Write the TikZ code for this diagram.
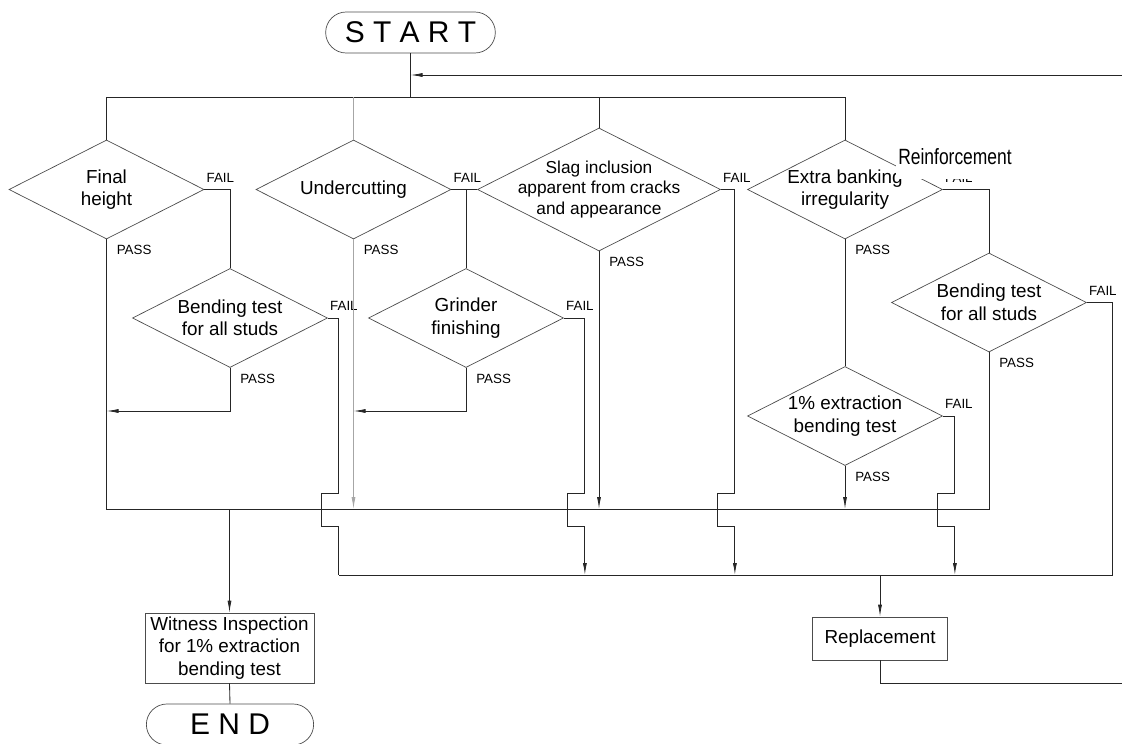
\documentclass[tikz,border=0pt]{standalone}
\usepackage{fontspec}
\setmainfont{Liberation Sans}
\newfontfamily\schmal[FakeStretch=0.79]{Liberation Sans}
\usetikzlibrary{arrows.meta,positioning,shapes.geometric,shapes.misc}
\tikzset{
    %Define standard arrow tip
    >={Latex[length=3mm,width=1mm]},
    % Define line styles
    linie/.style={draw=black!85, line width=0.6pt},
    grau/.style={draw=black!35, line width=0.6pt},
    pfeil/.style={linie, ->},
    % Define style for decisions
    raute/.style={
           diamond, aspect=1.97,
           draw=black!70, line width=0.5pt,
           inner sep=-2pt,
           minimum width=4.875cm,
           minimum height=2.475cm,
           align=center,
           font=\fontsize{13.4}{16}\selectfont},
    % Define style for boxes
    kasten/.style={
           rectangle,
           draw=black!70, line width=0.5pt,
           inner sep=0pt,
           align=center,
           font=\fontsize{13.4}{16}\selectfont},
    % Define style for start and end
    ende/.style={rounded rectangle, draw=black!70, line width=0.5pt,
           minimum width=4.475cm, minimum height=1.025cm,
           font=\fontsize{21.3}{24}\selectfont},
    % Define style for PASS / FAIL
    marke/.style={anchor=west, inner sep=0pt, font=\fontsize{9.5}{11}\selectfont}
}
% jog of a FAIL line across the PASS bus
\newcommand{\sprung}{-- ++(-17,0) -- ++(0,33) -- ++(17,0)}

\begin{document}
\begin{tikzpicture}[x=0.025cm,y=-0.025cm]
  \useasboundingbox (0,0) rectangle (1122,743);
  % levels of the buses
  \coordinate (bo) at (0,97);
  \coordinate (rp) at (0,411);
  \coordinate (so) at (0,493);
  \coordinate (bm) at (0,509);
  \coordinate (bu) at (0,575);
  \coordinate (rueck) at (1122,683);
  \coordinate (rueck2) at (1122,75);

  \node[ende] (start) at (410.5,32.5) {S T A R T};
  \node[raute] (d1) at (106.5,189.5) {Final\\height};
  \node[raute] (d2) at (353.5,189.5) {Undercutting};
  \node[raute, aspect=1.976, inner sep=-5pt, minimum width=6.075cm, minimum height=3.075cm,
        font=\fontsize{12.3}{14.6}\selectfont] (d3) at (599,189.5) {Slag inclusion\\apparent from cracks\\and appearance};
  \node[raute] (d4) at (845,189.5) {Extra banking\\irregularity};
  \node[raute] (b1) at (230,318) {Bending test\\for all studs};
  \node[raute] (g) at (466,318) {Grinder\\finishing};
  \node[raute] (b2) at (989,302.5) {Bending test\\for all studs};
  \node[raute] (e1) at (845,416) {1\% extraction\\bending test};
  \node[kasten, minimum width=4.225cm, minimum height=1.75cm] (wit) at (229.5,648) {Witness Inspection\\for 1\% extraction\\bending test};
  \node[kasten, minimum width=3.39cm, minimum height=1.075cm] (rep) at (880,638.5) {Replacement};
  \node[ende, minimum width=4.415cm] (end) at (230,724.5) {E N D};

  \foreach \d/\n in {d1/1,d2/2,d3/3,d4/4,b1/5,g/6,b2/7,e1/8} {
    \node[marke] (f\n) at ([shift={(2,-12)}]\d.east) {FAIL};
    \node[marke] (p\n) at ([shift={(10,11)}]\d.south) {PASS};
  }

  % start and top bus
  \draw[linie] (start.south) -- (start.south |- bo);
  \draw[pfeil] (rueck2) -- (rueck2 -| start.south);
  \draw[linie] (d1.north) -- (d1.north |- bo) -- (d4.north |- bo) -- (d4.north);
  \draw[linie] (d3.north) -- (d3.north |- bo);
  \draw[grau] (d2.north) -- (d2.north |- bo);

  % FAIL
  \draw[linie] (d1.east) -| (b1.north);
  \draw[linie] (d2.east) -- (d3.west);
  \draw[linie] (g.north |- d2.east) -- (g.north);
  \draw[linie] (d4.east) -| (b2.north);
  \draw[linie] (b1.east) -- ++(11,0) coordinate (k1) -- (k1 |- so) \sprung -- (k1 |- bu);
  \draw[pfeil] (g.east) -- ++(21,0) coordinate (k6) -- (k6 |- so) \sprung -- (k6 |- bu);
  \draw[pfeil] (d3.east) -- ++(14,0) coordinate (k3) -- (k3 |- so) \sprung -- (k3 |- bu);
  \draw[pfeil] (e1.east) -- ++(12,0) coordinate (k8) -- (k8 |- so) \sprung -- (k8 |- bu);
  \draw[linie] (b2.east) -- ++(26,0) coordinate (k7) -- (k7 |- bu) -- (k1 |- bu);

  % PASS
  \draw[linie] (d4.south) -- (e1.north);
  \draw[linie] (d1.south) -- (d1.south |- bm) -- (b2.south |- bm) -- (b2.south);
  \draw[pfeil] (b1.south) -- (b1.south |- rp) -- (d1.south |- rp);
  \draw[grau, ->] (d2.south) -- (d2.south |- bm);
  \draw[pfeil] (g.south) -- (g.south |- rp) -- (d2.south |- rp);
  \draw[pfeil] (d3.south) -- (d3.south |- bm);
  \draw[pfeil] (e1.south) -- (e1.south |- bm);
  \draw[pfeil] (wit.north |- bm) -- (wit.north);
  \draw[linie] (wit.south) -- (end.north);
  \draw[pfeil] (rep.north |- bu) -- (rep.north);
  \draw[linie] (rep.south) |- (rueck);

  \node[fill=white, inner sep=0pt, minimum width=2.95cm, minimum height=1.125cm,
        font=\schmal\fontsize{15.7}{18}\selectfont] (verst) at (955,156.5) {Reinforcement};
\end{tikzpicture}
\end{document}
